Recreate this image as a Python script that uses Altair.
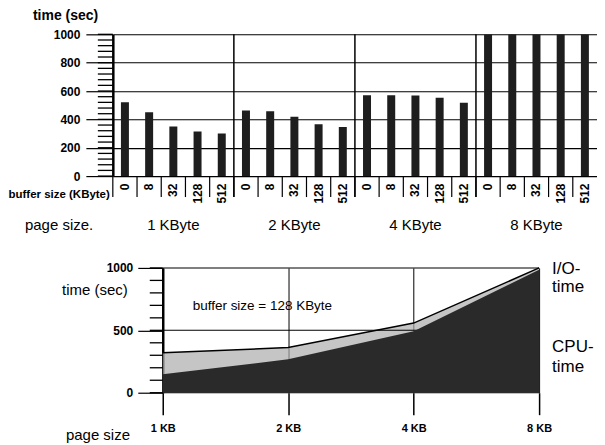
import altair as alt
import pandas as pd

FONT = "Liberation Sans"

# ---------------- data ----------------
page_sizes = ["1 KByte", "2 KByte", "4 KByte", "8 KByte"]
buffer_sizes = ["0", "8", "32", "128", "512"]
time_1kb = [520, 450, 350, 315, 300]
time_2kb = [462, 457, 418, 366, 347]
time_4kb = [571, 571, 568, 553, 518]
time_8kb = [1000, 1000, 1000, 1000, 1000]
bar_times = [time_1kb, time_2kb, time_4kb, time_8kb]

y_major_top = [0, 200, 400, 600, 800, 1000]
y_minor_top = list(range(0, 1001, 40))

page_kb = [1, 2, 4, 8]
total_time = [320, 362, 558, 1000]
cpu_time = [147, 268, 492, 985]
y_major_bot = [0, 500, 1000]
y_minor_bot = list(range(0, 1001, 100))

# ---------------- top chart ----------------
rows = []
keys = []
for p, vals in zip(page_sizes, bar_times):
    for b, v in zip(buffer_sizes, vals):
        k = f"{p}|{b}"
        keys.append(k)
        rows.append({"key": k, "page": p, "buffer": b, "time": v})
bars_df = pd.DataFrame(rows)

W1, H1 = 485, 142
xs = alt.Scale(domain=keys, paddingInner=0, paddingOuter=0)
ys = alt.Scale(domain=[0, 1000], nice=False)

x_axis1 = alt.Axis(labelExpr="split(datum.value,'|')[1]", labelAngle=270,
                   ticks=False, domain=False, labelPadding=7, title=None,
                   labelFont=FONT, labelFontSize=12, labelFontWeight="bold",
                   labelColor="black", labelOverlap=False)
y_axis1 = alt.Axis(values=y_major_top, format="d", tickSize=27, tickColor="black",
                   tickWidth=1.2, grid=True, gridColor="black",
                   gridOpacity=1, gridWidth=1.1, domainColor="black",
                   domainWidth=2.5, labelPadding=6, title=None,
                   labelOverlap=False, labelFlush=False,
                   labelFont=FONT, labelFontSize=12, labelFontWeight="bold",
                   labelColor="black")

bars = alt.Chart(bars_df).mark_bar(size=8, color="#1e1e1e", clip=True).encode(
    x=alt.X("key:N", sort=keys, scale=xs, axis=x_axis1),
    y=alt.Y("time:Q", scale=ys, axis=y_axis1),
)

minor_top = alt.Chart(pd.DataFrame({"v": y_minor_top})).mark_rule(
    color="black", strokeWidth=1.3).encode(
    y=alt.Y("v:Q", scale=ys, axis=y_axis1), x=alt.value(-15), x2=alt.value(0))

sep_df = pd.DataFrame({"key": keys})
seps = alt.Chart(sep_df).mark_rule(color="black", strokeWidth=1.2).encode(
    x=alt.X("key:N", sort=keys, scale=xs, bandPosition=0, axis=x_axis1),
    y=alt.value(H1), y2=alt.value(H1 + 21))

grp_df = pd.DataFrame({"key": [f"{p}|0" for p in page_sizes[1:]]})
grp_lines = alt.Chart(grp_df).mark_rule(color="black", strokeWidth=1.5).encode(
    x=alt.X("key:N", sort=keys, scale=xs, bandPosition=0, axis=x_axis1),
    y=alt.value(0), y2=alt.value(H1 + 21))

grp_lab_df = pd.DataFrame({"key": [f"{p}|32" for p in page_sizes], "label": page_sizes})
grp_labels = alt.Chart(grp_lab_df).mark_text(
    font=FONT, fontSize=15, baseline="middle", align="center", color="black").encode(
    x=alt.X("key:N", sort=keys, scale=xs, axis=x_axis1), y=alt.value(H1 + 49),
    text="label:N")

def txt(s, x, y, size=12, weight="normal", align="left", baseline="middle"):
    return alt.Chart(pd.DataFrame({"t": [s]})).mark_text(
        font=FONT, fontSize=size, fontWeight=weight, align=align,
        baseline=baseline, color="black").encode(
        x=alt.value(x), y=alt.value(y), text="t:N")

top = alt.layer(
    bars, minor_top, seps, grp_lines, grp_labels,
    txt("time (sec)", -80, -18, 14, "bold"),
    txt("buffer size (KByte)", -3, H1 + 19, 11.5, "bold", align="right"),
    txt("page size.", -88, H1 + 49, 15),
).properties(width=W1, height=H1)

# ---------------- bottom chart ----------------
W2, H2 = 427, 125
X0 = 50
line_df = pd.DataFrame({"page": page_kb, "total": total_time, "cpu": cpu_time})
xs2 = alt.Scale(type="log", base=2, domain=[1, 8], range=[X0, W2])
ys2 = alt.Scale(domain=[0, 1000], nice=False)

x_axis2 = alt.Axis(values=page_kb, labelExpr="datum.value + ' KB'", tickSize=22,
                   tickColor="black", tickWidth=1.5, grid=True, gridColor="black",
                   gridOpacity=1, gridWidth=1, domain=False, labelPadding=8,
                   title=None, labelFont=FONT, labelFontSize=11,
                   labelFontWeight="bold", labelColor="black", labelFlush=False,
                   labelOverlap=False)
y_axis2 = alt.Axis(values=y_major_bot, format="d", tickSize=25, tickColor="black",
                   tickWidth=1.2, grid=False, domainColor="black",
                   domainWidth=2.5, offset=-X0, labelPadding=5, title=None,
                   labelOverlap=False, labelFlush=False,
                   labelFont=FONT, labelFontSize=12, labelFontWeight="bold",
                   labelColor="black")

io_area = alt.Chart(line_df).mark_area(color="#acacac", line={"color": "black", "strokeWidth": 1.5}).encode(
    x=alt.X("page:Q", scale=xs2, axis=x_axis2),
    y=alt.Y("total:Q", scale=ys2, axis=y_axis2),
)
cpu_area = alt.Chart(line_df).mark_area(color="#2a2a2a").encode(
    x=alt.X("page:Q", scale=xs2, axis=x_axis2),
    y=alt.Y("cpu:Q", scale=ys2, axis=y_axis2))

hgrid = alt.Chart(pd.DataFrame({"v": y_major_bot})).mark_rule(
    color="black", strokeWidth=1.1).encode(
    y=alt.Y("v:Q", scale=ys2, axis=y_axis2),
    x=alt.X(datum=1, scale=xs2, axis=x_axis2),
    x2=alt.X2(datum=8))

minor_bot = alt.Chart(pd.DataFrame({"v": y_minor_bot})).mark_rule(
    color="black", strokeWidth=1.3).encode(
    y=alt.Y("v:Q", scale=ys2, axis=y_axis2), x=alt.value(X0 - 13), x2=alt.value(X0))

bottom = alt.layer(
    io_area, hgrid, cpu_area, minor_bot,
    txt("time (sec)", X0 - 35, 22, 15, align="right"),
    txt("buffer size = 128 KByte", 80, 38, 13.5),
    txt("I/O-", 440, 1, 17),
    txt("time", 440, 19, 17),
    txt("CPU-", 440, 79, 17),
    txt("time", 440, 99, 17),
    txt("page size", -47, H2 + 42, 15),
).properties(width=W2, height=H2)

chart = alt.vconcat(top, bottom, spacing=27).properties(
    padding={"left": 0, "top": 1, "right": 0, "bottom": 0}
).configure_view(stroke=None).configure_axis(labelFont=FONT)

chart.save("out.html", embed_options={"renderer": "svg", "actions": False})
